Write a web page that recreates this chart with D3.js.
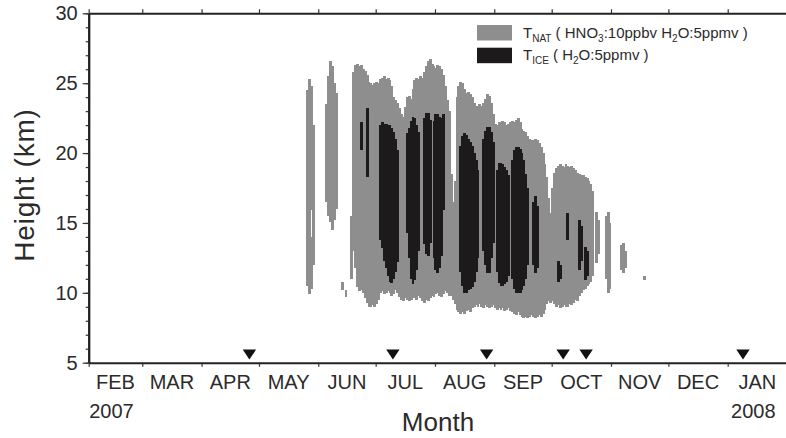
<!DOCTYPE html>
<html>
<head>
<meta charset="utf-8">
<script src="https://cdn.jsdelivr.net/npm/d3@7"></script>
<style>
  body { margin: 0; background: #fff; }
  text { font-family: "Liberation Sans", Arial, Helvetica, sans-serif; fill: #2b2b2b; }
</style>
</head>
<body>
<div id="chart"></div>
<script>
// month labels along the bottom
const monthLabels = ['FEB', 'MAR', 'APR', 'MAY', 'JUN', 'JUL', 'AUG', 'SEP', 'OCT', 'NOV', 'DEC', 'JAN'];
const yearLabels = [{ month: 0, text: '2007' }, { month: 11, text: '2008' }];
const heightTicks = [5, 10, 15, 20, 25, 30];

// T < T_NAT, main area: one column per day starting at day 138 after 1 Feb 2007 (km)
const natStartDay = 138;
const natTop = [
  25.8, 26.3, 26.4, 26.2, 26.3, 26.0, 25.9, 25.6, 25.1, 25.0, 24.9, 25.0, 25.1, 25.0, 25.3, 25.4,
  25.5, 25.3, 25.4, 25.2, 24.8, 24.0, 23.8, 23.6, 23.2, 22.8, 22.6, 23.3, 24.0, 24.1, 23.9, 24.6,
  25.2, 25.4, 25.3, 25.5, 25.4, 25.8, 26.2, 26.6, 26.7, 26.4, 26.2, 26.1, 26.3, 26.2, 26.0, 25.6,
  24.8, 23.8, 23.0, 18.5, 16.5, 18.0, 24.0, 24.8, 25.1, 25.0, 24.6, 24.3, 24.4, 24.2, 24.0, 23.6,
  23.4, 23.3, 23.5, 23.4, 23.6, 23.9, 24.2, 24.1, 23.6, 22.8, 22.1, 22.0, 22.2, 22.1, 22.3, 22.2,
  22.0, 22.1, 22.2, 22.3, 22.2, 22.4, 22.5, 22.2, 21.7, 21.6, 21.5, 21.2, 21.0, 20.9, 20.9, 21.0,
  20.9, 20.7, 20.4, 20.0, 19.2, 18.3, 16.8, 15.7, 17.5, 18.6, 18.9, 19.1, 19.2, 19.1, 19.0, 19.2,
  19.1, 19.0, 19.1, 18.9, 18.8, 18.6, 18.5, 18.4, 18.4, 18.3, 18.2, 18.0, 17.8, 17.3
];
const natBottom = [
  13.0, 11.8, 10.4, 10.1, 10.2, 10.0, 9.6, 9.3, 9.0, 9.0, 9.1, 9.0, 9.2, 9.5, 10.0, 10.1,
  9.9, 10.0, 10.1, 10.0, 9.8, 9.9, 10.2, 10.0, 9.7, 9.5, 9.4, 9.6, 9.5, 9.4, 9.5, 9.7,
  9.6, 9.5, 9.8, 9.6, 9.4, 9.3, 9.5, 9.4, 9.6, 9.8, 9.7, 9.9, 10.0, 9.8, 9.7, 9.9,
  10.1, 10.0, 9.8, 9.8, 9.5, 9.2, 8.8, 8.6, 8.5, 8.6, 8.5, 8.7, 8.8, 8.6, 8.9, 9.0,
  9.1, 9.0, 9.2, 9.0, 8.9, 9.1, 9.0, 8.9, 9.0, 9.1, 8.9, 8.8, 8.9, 8.8, 8.9, 8.7,
  8.8, 8.9, 8.7, 8.6, 8.5, 8.4, 8.6, 8.4, 8.3, 8.2, 8.3, 8.2, 8.3, 8.4, 8.3, 8.2,
  8.3, 8.4, 8.3, 8.5, 8.8, 9.2, 9.4, 9.3, 9.4, 9.2, 9.0, 9.1, 8.9, 9.0, 9.1, 9.0,
  9.0, 9.2, 9.1, 9.3, 9.5, 9.4, 9.8, 10.0, 10.2, 10.3, 10.5, 10.6, 10.8, 11.2
];
// isolated T_NAT patches: [day, bottom km, top km]
const natPatches = [
  [114, 10.5, 24.5], [115, 9.9, 25.3], [116, 10.3, 14.0], [116, 15.9, 24.8], [117, 12.0, 22.0],
  [124, 16.5, 23.5], [125, 15.5, 25.5], [126, 15.1, 26.6], [127, 14.5, 26.2], [128, 15.2, 25.0], [129, 16.0, 24.3],
  [132, 10.2, 10.8], [134, 9.7, 10.2],
  [137, 11.0, 15.5],
  [265, 12.1, 15.8], [266, 12.8, 15.2],
  [270, 11.0, 15.5], [271, 10.0, 15.8], [272, 10.3, 15.0],
  [278, 11.6, 13.4], [279, 11.4, 13.6], [280, 11.8, 13.0],
  [290, 10.9, 11.2]
];
// T < T_ICE: [day, bottom km, top km]
const iceCols = [
  [142, 20.2, 22.2], [145, 18.3, 23.2],
  [152, 13.8, 22.0], [153, 13.2, 22.2], [154, 12.3, 22.1], [155, 11.8, 22.1], [156, 11.2, 22.0],
  [157, 10.8, 22.0], [158, 10.7, 21.8], [159, 11.0, 21.5], [160, 11.5, 21.0], [161, 12.2, 20.2],
  [166, 14.3, 21.4], [167, 12.5, 21.8], [168, 11.0, 22.3], [169, 10.6, 22.6], [170, 10.9, 22.5], [171, 11.6, 22.0], [172, 13.0, 21.5],
  [175, 13.5, 22.5], [176, 12.8, 22.9], [177, 12.6, 22.9], [178, 13.6, 22.4],
  [180, 12.5, 22.3], [181, 11.6, 22.8], [182, 11.4, 22.8], [183, 11.8, 22.6], [184, 12.6, 22.5], [185, 15.9, 22.8],
  [194, 11.5, 20.5], [195, 10.5, 21.2], [196, 10.0, 21.4], [197, 10.0, 21.3], [198, 10.2, 21.0],
  [199, 10.3, 20.8], [200, 10.4, 20.5], [201, 10.8, 20.0], [202, 11.5, 19.5], [203, 12.5, 18.8],
  [206, 13.0, 21.0], [207, 12.0, 21.6], [208, 11.4, 21.9], [209, 11.4, 21.9], [210, 12.5, 21.5], [211, 13.6, 20.8],
  [213, 11.5, 18.8], [214, 10.7, 19.3], [215, 10.5, 19.3], [216, 10.5, 19.2], [217, 10.6, 19.0], [218, 10.8, 18.8], [219, 11.2, 18.4],
  [221, 11.0, 19.5], [222, 10.3, 20.2], [223, 10.0, 20.4], [224, 10.0, 20.4], [225, 10.0, 20.3],
  [226, 10.2, 20.0], [227, 10.5, 19.5], [228, 11.0, 18.5], [229, 12.0, 17.5],
  [232, 12.0, 16.5], [233, 11.4, 16.9], [234, 11.8, 16.2],
  [245, 10.8, 12.3], [246, 11.0, 12.0],
  [250, 13.8, 15.7],
  [256, 11.6, 15.2], [257, 12.3, 14.8],
  [259, 10.9, 13.3], [260, 11.2, 13.0]
];
// triangle markers on the time axis
const markerDates = ['2007-04-26', '2007-07-10', '2007-08-28', '2007-10-07', '2007-10-19', '2008-01-09'];

const natColor = '#8e8e8e';
const iceColor = '#1c1a1b';

function drawChart() {
  const svgWidth = 786, svgHeight = 438;
  const svg = d3.select('#chart').append('svg')
    .attr('width', svgWidth)
    .attr('height', svgHeight);

  const t0 = new Date(Date.UTC(2007, 1, 1));
  const t1 = new Date(Date.UTC(2008, 1, 1));
  const x = d3.scaleUtc().domain([t0, t1]).range([88.7, 787]);
  const y = d3.scaleLinear().domain([5, 30]).range([362.7, 13.3]);
  const dayX = d => x(d3.utcDay.offset(t0, d));

  // assemble columns
  const natCols = natTop.map((top, i) => [natStartDay + i, natBottom[i], top]).concat(natPatches);

  // whole-pixel columns so neighbouring days join without seams
  function drawCols(cols, color) {
    svg.append('g')
      .attr('fill', color)
      .attr('shape-rendering', 'crispEdges')
      .selectAll('rect')
      .data(cols)
      .join('rect')
      .attr('x', d => Math.floor(dayX(d[0])))
      .attr('width', d => Math.ceil(dayX(d[0] + 1)) - Math.floor(dayX(d[0])))
      .attr('y', d => Math.round(y(d[2])))
      .attr('height', d => Math.round(y(d[1])) - Math.round(y(d[2])));
  }
  drawCols(natCols, natColor);
  drawCols(iceCols, iceColor);

  // markers
  svg.append('g')
    .selectAll('path')
    .data(markerDates)
    .join('path')
    .attr('transform', d => `translate(${x(new Date(d + 'T00:00:00Z'))},359.5)`)
    .attr('d', 'M-6.7,-10L6.7,-10L0,0Z')
    .attr('fill', '#111');

  const months = d3.utcMonth.range(t0, t1);

  // axes
  const axisStyle = g => {
    g.select('.domain').attr('stroke', '#222').attr('stroke-width', 2);
    g.selectAll('.tick line').attr('stroke', '#333').attr('stroke-width', 1.2);
  };

  svg.append('g')
    .attr('transform', 'translate(0,362.7)')
    .call(d3.axisBottom(x).tickValues(months).tickSize(4).tickSizeOuter(0).tickFormat(''))
    .call(axisStyle);

  svg.append('g')
    .attr('transform', 'translate(0,13.3)')
    .call(d3.axisTop(x).tickValues(months).tickSize(4).tickSizeOuter(0).tickFormat(''))
    .call(axisStyle);

  svg.append('g')
    .attr('transform', 'translate(88.7,0)')
    .call(d3.axisLeft(y).tickValues(d3.range(5, 31)).tickSize(3).tickSizeOuter(0).tickFormat(''))
    .call(axisStyle);

  const yAxis = svg.append('g')
    .attr('transform', 'translate(88.7,0)')
    .call(d3.axisLeft(y).tickValues(heightTicks).tickSize(6).tickSizeOuter(0).tickPadding(5))
    .call(axisStyle);
  yAxis.selectAll('.tick text')
    .attr('font-size', 20)
    .attr('font-family', '"Liberation Sans", Arial, sans-serif')
    .attr('fill', '#2b2b2b');

  // month and year labels
  const midX = i => (x(months[i]) + x(i + 1 < months.length ? months[i + 1] : t1)) / 2;
  svg.append('g')
    .selectAll('text')
    .data(monthLabels)
    .join('text')
    .attr('x', (d, i) => midX(i))
    .attr('y', 389)
    .attr('text-anchor', 'middle')
    .attr('font-size', 20)
    .text(d => d);

  svg.append('g')
    .selectAll('text')
    .data(yearLabels)
    .join('text')
    .attr('x', d => midX(d.month) - 4)
    .attr('y', 418)
    .attr('text-anchor', 'middle')
    .attr('font-size', 20)
    .text(d => d.text);

  // axis titles
  svg.append('text')
    .attr('x', 438)
    .attr('y', 431)
    .attr('text-anchor', 'middle')
    .attr('font-size', 26)
    .text('Month');

  svg.append('text')
    .attr('transform', 'translate(34,185) rotate(-90)')
    .attr('text-anchor', 'middle')
    .attr('font-size', 28)
    .attr('letter-spacing', 0.8)
    .text('Height (km)');

  // legend
  const legend = svg.append('g').attr('transform', 'translate(477,25)');
  legend.append('rect').attr('width', 35).attr('height', 15.5).attr('fill', natColor);
  legend.append('rect').attr('y', 22.7).attr('width', 35).attr('height', 15.5).attr('fill', iceColor);

  function legendText(yPos, parts) {
    const t = legend.append('text').attr('x', 46).attr('y', yPos).attr('font-size', 15);
    let shifted = false;
    parts.forEach(p => {
      const sub = p.startsWith('_');
      const span = t.append('tspan').text(sub ? p.slice(1) : p);
      if (sub) { span.attr('font-size', 10).attr('dy', shifted ? 0 : 4); shifted = true; }
      else if (shifted) { span.attr('dy', -4); shifted = false; }
    });
  }
  legendText(12.5, ['T', '_NAT', ' ( HNO', '_3', ':10ppbv H', '_2', 'O:5ppmv )']);
  legendText(35, ['T', '_ICE', ' ( H', '_2', 'O:5ppmv )']);
}

drawChart();
</script>
</body>
</html>
